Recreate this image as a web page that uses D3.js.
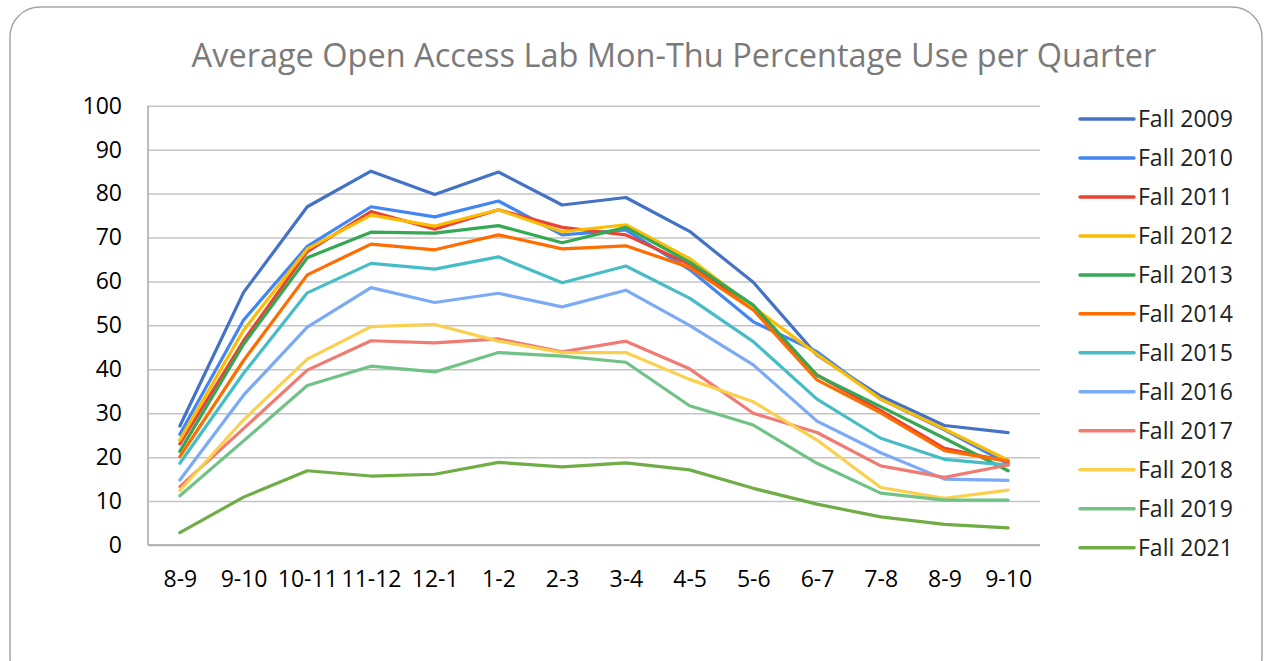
<!DOCTYPE html>
<html>
<head>
<meta charset="utf-8">
<script src="https://cdn.jsdelivr.net/npm/d3@7"></script>
<style>
  body { margin: 0; background: #fff; }
  svg { display: block; }
</style>
</head>
<body>
<svg id="chart" width="1266" height="661"></svg>
<script>
// hour slots along the x axis
const hours = ["8-9", "9-10", "10-11", "11-12", "12-1", "1-2", "2-3", "3-4", "4-5", "5-6", "6-7", "7-8", "8-9", "9-10"];
const yTicks = [0, 10, 20, 30, 40, 50, 60, 70, 80, 90, 100];

const quarters = ["Fall 2009", "Fall 2010", "Fall 2011", "Fall 2012", "Fall 2013", "Fall 2014",
  "Fall 2015", "Fall 2016", "Fall 2017", "Fall 2018", "Fall 2019", "Fall 2021"];

const fall2009 = [27.1, 57.5, 77.0, 85.1, 79.8, 84.9, 77.4, 79.1, 71.4, 59.8, 43.2, 33.9, 27.2, 25.6];
const fall2010 = [25.2, 51.2, 68.0, 77.0, 74.7, 78.3, 70.6, 71.7, 62.7, 50.8, 44.0, 33.2, 26.2, 18.5];
const fall2011 = [23.0, 46.5, 66.8, 75.9, 71.9, 76.3, 72.3, 70.6, 63.9, 53.8, 38.7, 30.6, 22.0, 19.0];
const fall2012 = [23.9, 48.9, 67.4, 75.1, 72.6, 76.3, 71.3, 72.9, 65.2, 54.2, 43.4, 33.2, 26.4, 19.3];
const fall2013 = [21.3, 45.7, 65.4, 71.2, 71.0, 72.7, 68.8, 72.3, 64.4, 54.6, 38.6, 31.5, 24.3, 16.9];
const fall2014 = [20.1, 42.0, 61.5, 68.5, 67.2, 70.6, 67.4, 68.1, 63.2, 53.5, 37.6, 30.1, 21.5, 19.1];
const fall2015 = [18.6, 39.1, 57.4, 64.1, 62.8, 65.6, 59.7, 63.5, 56.2, 46.3, 33.2, 24.3, 19.5, 18.2];
const fall2016 = [14.8, 34.1, 49.6, 58.6, 55.2, 57.3, 54.2, 58.0, 50.0, 41.0, 28.2, 21.0, 15.0, 14.7];
const fall2017 = [13.3, 26.5, 39.8, 46.5, 46.0, 46.9, 44.0, 46.4, 40.1, 30.0, 25.6, 18.0, 15.4, 18.2];
const fall2018 = [12.4, 28.5, 42.3, 49.7, 50.2, 46.4, 43.8, 43.8, 37.7, 32.6, 23.9, 13.1, 10.6, 12.5];
const fall2019 = [11.2, 23.7, 36.3, 40.7, 39.4, 43.8, 43.0, 41.6, 31.7, 27.3, 18.6, 11.8, 10.2, 10.2];
const fall2021 = [2.8, 10.9, 16.9, 15.7, 16.1, 18.8, 17.8, 18.7, 17.1, 12.9, 9.3, 6.4, 4.7, 3.9];

const seriesValues = [fall2009, fall2010, fall2011, fall2012, fall2013, fall2014,
  fall2015, fall2016, fall2017, fall2018, fall2019, fall2021];

const colors = ["#4472C4", "#4285F4", "#EA4335", "#FBBC04", "#34A853", "#FF6D01",
  "#46BDC6", "#7BAAF7", "#F07B72", "#FCD04F", "#71C287", "#70AD47"];

const font = "'Open Sans', 'Noto Sans', sans-serif";

const svg = d3.select("#chart");

// outer rounded frame
svg.append("rect")
  .attr("x", 10).attr("y", 7)
  .attr("width", 1252).attr("height", 680)
  .attr("rx", 30).attr("ry", 30)
  .attr("fill", "none")
  .attr("stroke", "#a6a6a6")
  .attr("stroke-width", 1.5);

const plot = { left: 148, right: 1040, top: 105.7, bottom: 545 };

const xScale = d3.scalePoint()
  .domain(d3.range(hours.length))
  .range([plot.left, plot.right])
  .padding(0.5);

const yScale = d3.scaleLinear()
  .domain([0, 100])
  .range([plot.bottom, plot.top]);

// title
svg.append("text")
  .attr("x", 674).attr("y", 67)
  .attr("text-anchor", "middle")
  .attr("font-family", font)
  .attr("font-size", 32.5)
  .attr("fill", "#7a7a7a")
  .text("Average Open Access Lab Mon-Thu Percentage Use per Quarter");

// y gridlines + labels
const yAxisG = svg.append("g")
  .attr("transform", "translate(" + plot.left + ",0)")
  .call(d3.axisLeft(yScale).tickValues(yTicks).tickSize(-(plot.right - plot.left)).tickPadding(26));
yAxisG.select(".domain").remove();
yAxisG.selectAll(".tick line").attr("stroke", "#c4c4c4").attr("stroke-width", 1.5);
yAxisG.selectAll(".tick text")
  .attr("font-family", font).attr("font-size", 23).attr("fill", "#000");

// x labels
const xAxisG = svg.append("g")
  .attr("transform", "translate(0," + plot.bottom + ")")
  .call(d3.axisBottom(xScale).tickSize(0).tickPadding(26).tickFormat(i => hours[i]));
xAxisG.select(".domain").remove();
xAxisG.selectAll(".tick text")
  .attr("font-family", font).attr("font-size", 23).attr("fill", "#000");

// axis lines
svg.append("line")
  .attr("x1", plot.left).attr("x2", plot.left)
  .attr("y1", plot.top).attr("y2", plot.bottom)
  .attr("stroke", "#a6a6a6").attr("stroke-width", 1.5);
svg.append("line")
  .attr("x1", plot.left).attr("x2", plot.right)
  .attr("y1", plot.bottom).attr("y2", plot.bottom)
  .attr("stroke", "#a6a6a6").attr("stroke-width", 1.5);

const line = d3.line()
  .x((d, i) => xScale(i))
  .y(d => yScale(d));

svg.append("g").selectAll("path")
  .data(seriesValues)
  .join("path")
  .attr("fill", "none")
  .attr("stroke", (d, i) => colors[i])
  .attr("stroke-width", 3.2)
  .attr("stroke-linejoin", "round")
  .attr("stroke-linecap", "round")
  .attr("d", line);

// legend
const legend = svg.append("g").selectAll("g")
  .data(quarters)
  .join("g")
  .attr("transform", (d, i) => "translate(1080," + (119 + i * 38.97) + ")");

legend.append("line")
  .attr("x1", 0).attr("x2", 54)
  .attr("stroke", (d, i) => colors[i])
  .attr("stroke-width", 3.5)
  .attr("stroke-linecap", "round");

legend.append("text")
  .attr("x", 58).attr("dy", "0.35em")
  .attr("font-family", font).attr("font-size", 23).attr("fill", "#222")
  .text(d => d);
</script>
</body>
</html>
